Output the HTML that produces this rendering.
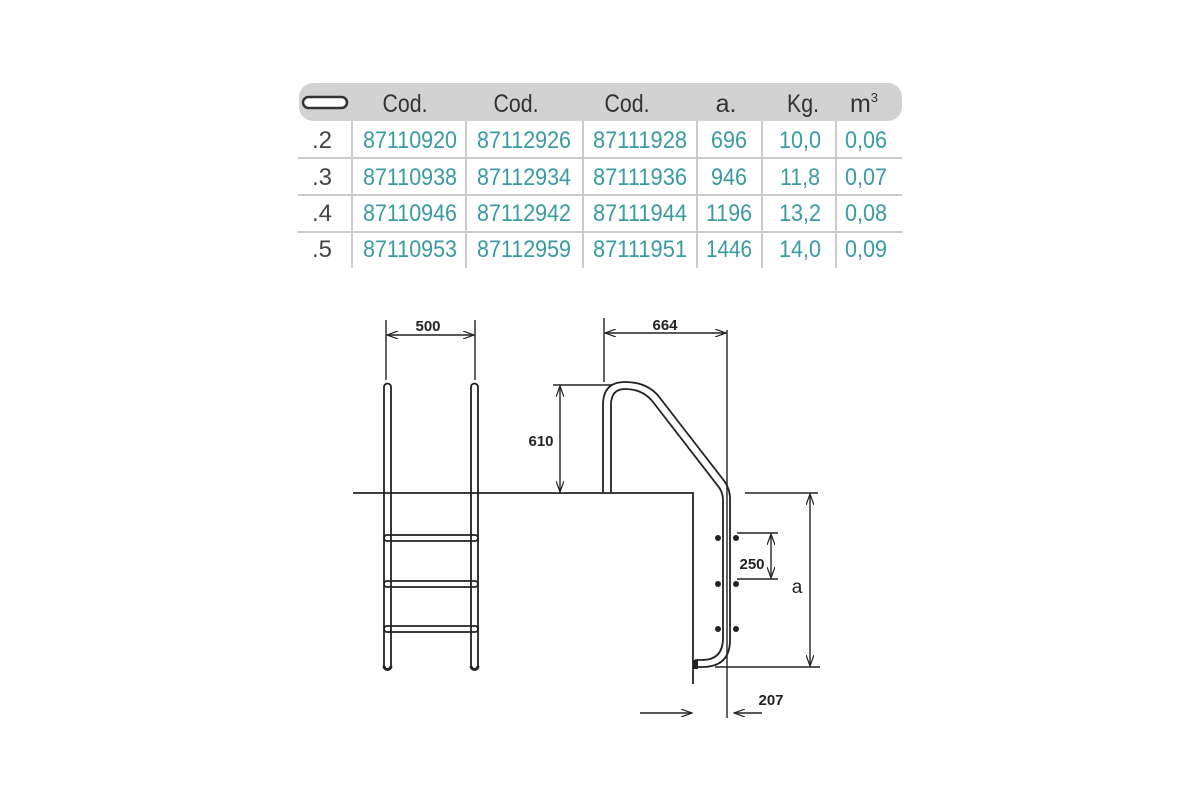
<!DOCTYPE html>
<html><head><meta charset="utf-8"><style>
html,body{margin:0;padding:0;background:#fff;width:1200px;height:800px;overflow:hidden}
svg{display:block}
.h{font-family:"Liberation Sans Narrow","Liberation Sans",sans-serif;font-size:25px;fill:#333;text-anchor:middle}
.d{font-family:"Liberation Sans Narrow","Liberation Sans",sans-serif;font-size:24px;fill:#3a9aa2;text-anchor:middle}
.r{font-family:"Liberation Sans Narrow","Liberation Sans",sans-serif;font-size:24px;fill:#444;text-anchor:middle}
.t{font-family:"Liberation Sans","DejaVu Sans",sans-serif;font-size:15px;font-weight:bold;fill:#222;text-anchor:middle}
</style></head><body>
<svg width="1200" height="800" viewBox="0 0 1200 800" xmlns="http://www.w3.org/2000/svg">
<defs>
<marker id="a" markerWidth="12" markerHeight="8" refX="11" refY="4" orient="auto-start-reverse" markerUnits="userSpaceOnUse">
<path d="M0,0 L11,4 L0,8" fill="none" stroke="#222" stroke-width="1.2"/></marker>
</defs>
<rect x="299" y="83" width="603" height="38" rx="14" fill="#d2d2d2"/>
<rect x="303" y="97" width="44" height="11" rx="5.5" fill="#fff" stroke="#333" stroke-width="2.5"/>
<text class="h" x="405" y="112" textLength="45" lengthAdjust="spacingAndGlyphs">Cod.</text>
<text class="h" x="516" y="112" textLength="45" lengthAdjust="spacingAndGlyphs">Cod.</text>
<text class="h" x="627" y="112" textLength="45" lengthAdjust="spacingAndGlyphs">Cod.</text>
<text class="h" x="726" y="112">a.</text>
<text class="h" x="803" y="112" textLength="32" lengthAdjust="spacingAndGlyphs">Kg.</text>
<text class="h" x="864" y="112">m<tspan font-size="13" dy="-10">3</tspan></text>
<g stroke="#ccc" stroke-width="2">
<line x1="298" y1="158" x2="902" y2="158"/>
<line x1="298" y1="195" x2="902" y2="195"/>
<line x1="298" y1="232" x2="902" y2="232"/>
<line x1="352" y1="121" x2="352" y2="268"/>
<line x1="466" y1="121" x2="466" y2="268"/>
<line x1="583" y1="121" x2="583" y2="268"/>
<line x1="697" y1="121" x2="697" y2="268"/>
<line x1="762" y1="121" x2="762" y2="268"/>
<line x1="836" y1="121" x2="836" y2="268"/>
</g>
<g>
<text class="r" x="322" y="148">.2</text><text class="d" x="410" y="148" textLength="94" lengthAdjust="spacingAndGlyphs">87110920</text><text class="d" x="524" y="148" textLength="94" lengthAdjust="spacingAndGlyphs">87112926</text><text class="d" x="640" y="148" textLength="94" lengthAdjust="spacingAndGlyphs">87111928</text><text class="d" x="729" y="148" textLength="36" lengthAdjust="spacingAndGlyphs">696</text><text class="d" x="800" y="148" textLength="42" lengthAdjust="spacingAndGlyphs">10,0</text><text class="d" x="866" y="148" textLength="42" lengthAdjust="spacingAndGlyphs">0,06</text>
<text class="r" x="322" y="185">.3</text><text class="d" x="410" y="185" textLength="94" lengthAdjust="spacingAndGlyphs">87110938</text><text class="d" x="524" y="185" textLength="94" lengthAdjust="spacingAndGlyphs">87112934</text><text class="d" x="640" y="185" textLength="94" lengthAdjust="spacingAndGlyphs">87111936</text><text class="d" x="729" y="185" textLength="36" lengthAdjust="spacingAndGlyphs">946</text><text class="d" x="800" y="185" textLength="40" lengthAdjust="spacingAndGlyphs">11,8</text><text class="d" x="866" y="185" textLength="42" lengthAdjust="spacingAndGlyphs">0,07</text>
<text class="r" x="322" y="221">.4</text><text class="d" x="410" y="221" textLength="94" lengthAdjust="spacingAndGlyphs">87110946</text><text class="d" x="524" y="221" textLength="94" lengthAdjust="spacingAndGlyphs">87112942</text><text class="d" x="640" y="221" textLength="94" lengthAdjust="spacingAndGlyphs">87111944</text><text class="d" x="729" y="221" textLength="46" lengthAdjust="spacingAndGlyphs">1196</text><text class="d" x="800" y="221" textLength="42" lengthAdjust="spacingAndGlyphs">13,2</text><text class="d" x="866" y="221" textLength="42" lengthAdjust="spacingAndGlyphs">0,08</text>
<text class="r" x="322" y="257">.5</text><text class="d" x="410" y="257" textLength="94" lengthAdjust="spacingAndGlyphs">87110953</text><text class="d" x="524" y="257" textLength="94" lengthAdjust="spacingAndGlyphs">87112959</text><text class="d" x="640" y="257" textLength="94" lengthAdjust="spacingAndGlyphs">87111951</text><text class="d" x="729" y="257" textLength="46" lengthAdjust="spacingAndGlyphs">1446</text><text class="d" x="800" y="257" textLength="42" lengthAdjust="spacingAndGlyphs">14,0</text><text class="d" x="866" y="257" textLength="42" lengthAdjust="spacingAndGlyphs">0,09</text>
</g>
<g fill="none" stroke="#222" stroke-width="1.8">
<path d="M353,493 H693 V684"/>
<path d="M384,668 V387 a3.5,3.5 0 0 1 7,0 V668"/>
<path d="M471,668 V387 a3.5,3.5 0 0 1 7,0 V668"/>
<path d="M384,666 a3.5,3.5 0 0 0 7,0 M471,666 a3.5,3.5 0 0 0 7,0" stroke-width="3"/>
<rect x="384" y="535" width="94" height="6" rx="3"/>
<rect x="384" y="581" width="94" height="6" rx="3"/>
<rect x="384" y="626" width="94" height="6" rx="3"/>
<path d="M603,493 V405 Q603,382 625,382 Q648,382 660,398 L725,482 Q730,490 730,498 V640 Q730,667 702,667 H695"/>
<path d="M611,493 V405 Q611,389 625,389 Q643,389 653,402 L718,486 Q723,492 723,500 V638 Q723,660 702,660 H695"/>
</g>
<g fill="none" stroke="#222" stroke-width="1.4">
<path d="M386,320 V380 M475,320 V380 M604,318 V382 M727,330 V718"/>
<line x1="387" y1="335" x2="474" y2="335" marker-start="url(#a)" marker-end="url(#a)"/>
<line x1="605" y1="333" x2="726" y2="333" marker-start="url(#a)" marker-end="url(#a)"/>
<path d="M553,385 H612"/>
<line x1="560" y1="386" x2="560" y2="492" marker-start="url(#a)" marker-end="url(#a)"/>
<path d="M745,493 H818 M715,667 H820"/>
<line x1="810" y1="494" x2="810" y2="666" marker-start="url(#a)" marker-end="url(#a)"/>
<path d="M737,533 H778 M737,579 H778"/>
<line x1="771" y1="534" x2="771" y2="578" marker-start="url(#a)" marker-end="url(#a)"/>
<line x1="640" y1="713" x2="692" y2="713" marker-end="url(#a)"/>
<line x1="762" y1="713" x2="734" y2="713" marker-end="url(#a)"/>
</g>
<g fill="#222">
<circle cx="718" cy="538" r="3"/><circle cx="736" cy="538" r="3"/>
<circle cx="718" cy="584" r="3"/><circle cx="736" cy="584" r="3"/>
<circle cx="718" cy="629" r="3"/><circle cx="736" cy="629" r="3"/>
<rect x="693" y="660" width="5" height="9"/>
</g>
<text class="t" x="428" y="331">500</text>
<text class="t" x="665" y="330">664</text>
<text class="t" x="541" y="446">610</text>
<text class="t" x="752" y="569">250</text>
<text class="t" x="797" y="593" style="font-size:19px;font-weight:normal">a</text>
<text class="t" x="771" y="705">207</text>
</svg>
</body></html>
